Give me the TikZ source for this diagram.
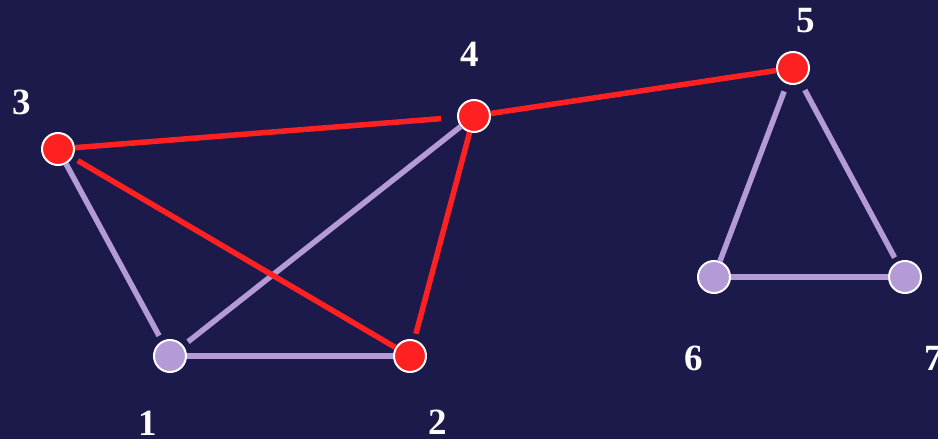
\documentclass[tikz,border=0pt]{standalone}
\usepackage{fontspec}
\setmainfont{Liberation Serif}
\usepackage{xcolor}
\definecolor{navybg}{HTML}{1B1A4A}
\definecolor{hotred}{HTML}{FF2121}
\definecolor{lilac}{HTML}{B49AD6}
\tikzset{
  vert/.style={circle,draw=white,line width=2pt,inner sep=0pt,minimum size=32pt},
  lbl/.style={text=white,font=\fontsize{37}{40}\selectfont\bfseries},
  redge/.style={hotred,line width=5.5pt},
  ledge/.style={lilac,line width=5.5pt}
}

\begin{document}
\begin{tikzpicture}[x=1pt,y=-1pt]
  \fill[navybg] (0,0) rectangle (938,439);
  \useasboundingbox (0,0) rectangle (938,439);
  % vertices
  \node[vert,fill=lilac]  (n1) at (170,356) {};
  \node[vert,fill=hotred] (n2) at (410,356) {};
  \node[vert,fill=hotred] (n3) at (58,149) {};
  \node[vert,fill=hotred] (n4) at (474,116) {};
  \node[vert,fill=hotred] (n5) at (793,68) {};
  \node[vert,fill=lilac]  (n6) at (714,277) {};
  \node[vert,fill=lilac]  (n7) at (905,277) {};
  % labels
  \node[lbl] (l1) at (148,423) {1};
  \node[lbl] (l2) at (438,422) {2};
  \node[lbl] (l3) at (22,102) {3};
  \node[lbl] (l4) at (470,54) {4};
  \node[lbl] (l5) at (806,21) {5};
  \node[lbl] (l6) at (694,358) {6};
  \node[lbl] (l7) at (934,358) {7};
  % edges
  \draw[ledge,shorten >=6pt] (n3) -- (n1);
  \draw[ledge,shorten <=6pt] (n1) -- (n4);
  \draw[ledge] (n1) -- (n2);
  \draw[ledge,shorten <=8pt] (n5) -- (n6);
  \draw[ledge,shorten <=8pt,shorten >=5pt] (n5) -- (n7);
  \draw[ledge] (n6) -- (n7);
  \draw[redge,shorten >=16pt] (n3) -- (n4);
  \draw[redge] (n4) -- (n5);
  \draw[redge,shorten <=6pt] (n3) -- (n2);
  \draw[redge,shorten >=6pt] (n4) -- (n2);
\end{tikzpicture}
\end{document}
